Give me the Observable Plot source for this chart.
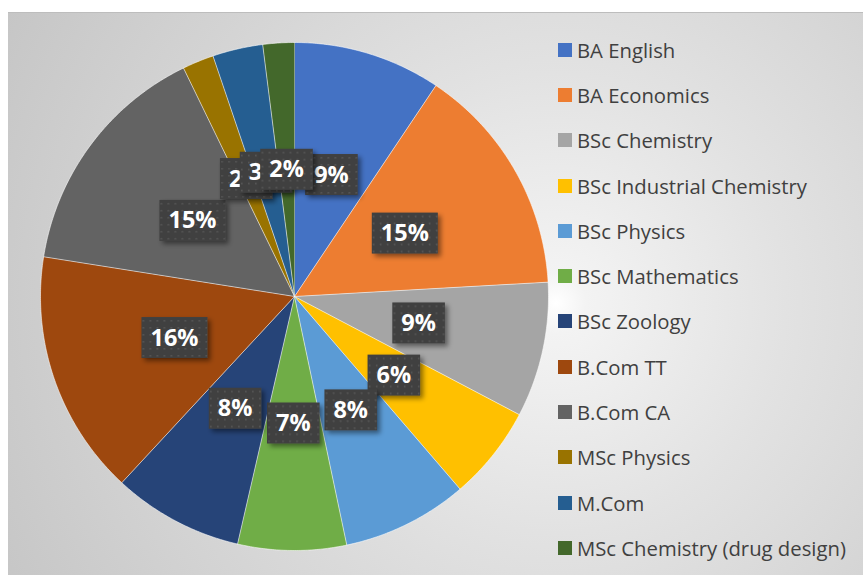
<!DOCTYPE html>
<html><head><meta charset="utf-8">
<script src="https://cdn.jsdelivr.net/npm/d3@7"></script>
<script src="https://cdn.jsdelivr.net/npm/@observablehq/plot@0.6"></script>
<style>
body{margin:0;width:863px;height:575px;background:#fff;overflow:hidden;font-family:"Open Sans",sans-serif;position:relative}
#frame{position:absolute;left:8px;top:12px;width:855px;height:563px;border-top:1px solid #bdbdbd;
 background:radial-gradient(circle at 548px 290px,#ffffff 0px,#f3f3f3 30px,#e2e2e2 230px,#d4d4d4 420px,#c6c6c6 620px);}
#chart{position:absolute;left:0;top:0}
#legend{position:absolute;left:558px;top:27px}
.item{height:45.3px;display:flex;align-items:center;font-size:20.3px;color:#404040;white-space:nowrap}
.sw{width:14px;height:14px;margin-right:5px;flex:none}
</style></head>
<body>
<div id="frame"></div>
<div id="chart"></div>
<div id="legend"></div>
<script>
const categories = ["BA English","BA Economics","BSc Chemistry","BSc Industrial Chemistry","BSc Physics","BSc Mathematics","BSc Zoology","B.Com TT","B.Com CA","MSc Physics","M.Com","MSc Chemistry (drug design)"];
const shares = [9.4, 14.7, 8.6, 6.0, 8.0, 6.9, 8.3, 15.6, 15.3, 2.0, 3.2, 2.0];
const colors = ["#4472C4","#ED7D31","#A5A5A5","#FFC000","#5B9BD5","#70AD47","#264478","#9E480E","#636363","#997300","#255E91","#43682B"];

const total = d3.sum(shares);
const pts = [];
const labels = [];
let acc = 0;
categories.forEach((c, i) => {
  const a0 = acc / total * 2 * Math.PI;
  acc += shares[i];
  const a1 = acc / total * 2 * Math.PI;
  pts.push({cat: c, x: 0, y: 0});
  const n = Math.max(2, Math.ceil((a1 - a0) / (Math.PI / 360)));
  for (let k = 0; k <= n; k++) {
    const a = a0 + (a1 - a0) * k / n;
    pts.push({cat: c, x: Math.sin(a), y: Math.cos(a)});
  }
  const am = (a0 + a1) / 2;
  labels.push({cat: c, x: 0.5 * Math.sin(am), y: 0.5 * Math.cos(am), text: d3.format(".0%")(shares[i] / total)});
});

const svg = Plot.plot({
  width: 863, height: 575,
  marginLeft: 40, marginRight: 315, marginTop: 42, marginBottom: 25,
  x: {domain: [-1, 1], axis: null},
  y: {domain: [-1, 1], axis: null},
  color: {domain: categories, range: colors},
  style: {background: "transparent", overflow: "visible"},
  marks: [
    Plot.line(pts, {x: "x", y: "y", z: "cat", fill: "cat", stroke: "#ffffff", strokeWidth: 0.8, strokeOpacity: 0.7, curve: "linear"}),
    Plot.text(labels, {x: "x", y: "y", text: "text", fill: "white", fontSize: 23.5, fontWeight: "bold", fontFamily: "Open Sans", className: "pielabel"})
  ]
});
document.getElementById("chart").appendChild(svg);

const ns = "http://www.w3.org/2000/svg";
const defs = document.createElementNS(ns, "defs");
defs.innerHTML = `
<pattern id="dots" width="7" height="7" patternUnits="userSpaceOnUse">
  <rect width="7" height="7" fill="#404040"/>
  <rect x="3" y="3" width="1.6" height="1.6" fill="#575757"/>
</pattern>
<filter id="shadow" x="-20%" y="-20%" width="150%" height="160%">
  <feDropShadow dx="3" dy="3" stdDeviation="2.5" flood-color="#000" flood-opacity="0.45"/>
</filter>`;
svg.insertBefore(defs, svg.firstChild);

svg.querySelectorAll(".pielabel text").forEach(t => {
  const b = t.getBBox();
  const w = b.width + 18, h = 41;
  const cx = b.x + b.width / 2, cy = b.y + b.height / 2 + 1;
  const r = document.createElementNS(ns, "rect");
  r.setAttribute("x", cx - w / 2);
  r.setAttribute("y", cy - h / 2);
  r.setAttribute("width", w);
  r.setAttribute("height", h);
  r.setAttribute("fill", "url(#dots)");
  r.setAttribute("filter", "url(#shadow)");
  const tr = t.getAttribute("transform");
  if (tr) r.setAttribute("transform", tr);
  t.parentNode.insertBefore(r, t);
});

const leg = document.getElementById("legend");
categories.forEach((c, i) => {
  const d = document.createElement("div");
  d.className = "item";
  d.innerHTML = `<span class="sw" style="background:${colors[i]}"></span><span>${c}</span>`;
  leg.appendChild(d);
});
</script>
</body></html>
